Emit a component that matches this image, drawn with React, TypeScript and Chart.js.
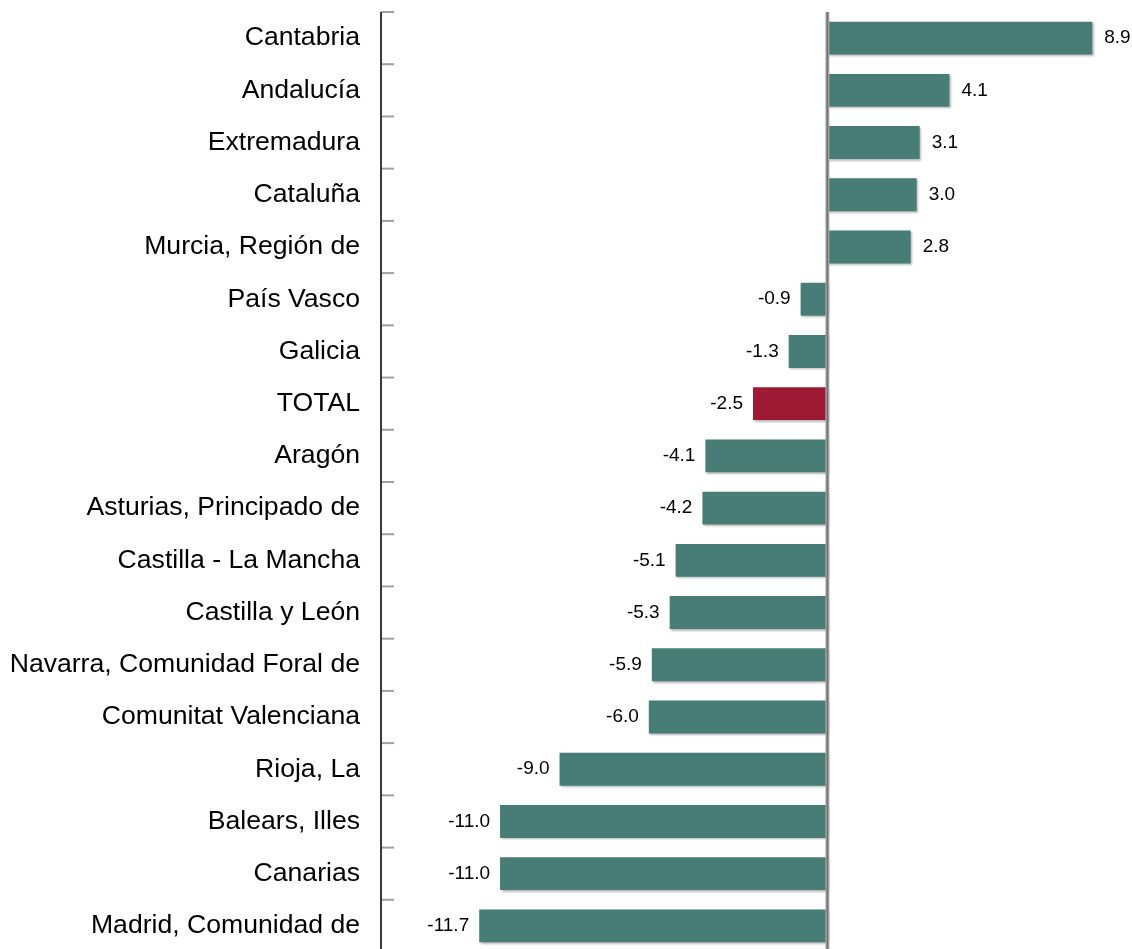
import { useEffect, useRef } from "react";
import { Chart, registerables } from "chart.js";

Chart.register(...registerables);

const categories = [
  "Cantabria",
  "Andalucía",
  "Extremadura",
  "Cataluña",
  "Murcia, Región de",
  "País Vasco",
  "Galicia",
  "TOTAL",
  "Aragón",
  "Asturias, Principado de",
  "Castilla - La Mancha",
  "Castilla y León",
  "Navarra, Comunidad Foral de",
  "Comunitat Valenciana",
  "Rioja, La",
  "Balears, Illes",
  "Canarias",
  "Madrid, Comunidad de",
];

const values = [8.9, 4.1, 3.1, 3.0, 2.8, -0.9, -1.3, -2.5, -4.1, -4.2, -5.1, -5.3, -5.9, -6.0, -9.0, -11.0, -11.0, -11.7];

const highlightCategory = "TOTAL";
const xMin = -15;
const xMax = 10;

const TEAL = "#477d75";
const RED = "#9c1a33";

export default function App() {
  const canvasRef = useRef<HTMLCanvasElement | null>(null);

  useEffect(() => {
    document.body.style.margin = "0";
    document.body.style.overflow = "hidden";
    const canvas = canvasRef.current;
    if (!canvas) return;

    const shadowPlugin = {
      id: "barShadow",
      beforeDatasetsDraw(chart: any) {
        const ctx = chart.ctx;
        ctx.save();
        ctx.shadowColor = "rgba(0,0,0,0.28)";
        ctx.shadowOffsetX = 1.5;
        ctx.shadowOffsetY = 1.5;
        ctx.shadowBlur = 2;
      },
      afterDatasetsDraw(chart: any) {
        const ctx = chart.ctx;
        ctx.restore();
        const area = chart.chartArea;
        const xs = chart.scales.x;
        const ys = chart.scales.y;
        // zero line
        const x0 = xs.getPixelForValue(0);
        ctx.save();
        ctx.strokeStyle = "#a8a8a8";
        ctx.lineWidth = 4;
        ctx.beginPath();
        ctx.moveTo(x0, area.top);
        ctx.lineTo(x0, area.bottom);
        ctx.stroke();
        ctx.strokeStyle = "#707070";
        ctx.lineWidth = 1.5;
        ctx.beginPath();
        ctx.moveTo(x0, area.top);
        ctx.lineTo(x0, area.bottom);
        ctx.stroke();
        // inner tick marks at category boundaries
        ctx.strokeStyle = "#a0a0a0";
        ctx.lineWidth = 2;
        for (let i = 0; i <= categories.length; i++) {
          const y = ys.getPixelForValue(i - 0.5);
          ctx.beginPath();
          ctx.moveTo(area.left, y);
          ctx.lineTo(area.left + 13, y);
          ctx.stroke();
        }
        // axis line
        ctx.strokeStyle = "#3a3a3a";
        ctx.lineWidth = 2;
        ctx.beginPath();
        ctx.moveTo(area.left, area.top);
        ctx.lineTo(area.left, area.bottom);
        ctx.stroke();
        // value labels
        const meta = chart.getDatasetMeta(0);
        ctx.font = "19px 'Liberation Sans', Arial, sans-serif";
        ctx.fillStyle = "#000";
        ctx.textBaseline = "middle";
        meta.data.forEach((bar: any, i: number) => {
          const v = values[i];
          const txt = v.toFixed(1);
          if (v >= 0) {
            ctx.textAlign = "left";
            ctx.fillText(txt, bar.x + 12, bar.y);
          } else {
            ctx.textAlign = "right";
            ctx.fillText(txt, bar.x - 10, bar.y);
          }
        });
        ctx.restore();
      },
    };

    const chart = new Chart(canvas, {
      type: "bar",
      data: {
        labels: categories,
        datasets: [
          {
            data: values,
            backgroundColor: categories.map((c) => (c === highlightCategory ? RED : TEAL)),
            borderWidth: 0,
            barPercentage: 0.63,
            categoryPercentage: 1,
          },
        ],
      },
      options: {
        indexAxis: "y",
        animation: false,
        responsive: false,
        maintainAspectRatio: false,
        devicePixelRatio: 1,
        layout: { padding: { top: 12, right: 7, bottom: 8, left: 0 } },
        plugins: {
          legend: { display: false },
          tooltip: { enabled: false },
        },
        scales: {
          x: {
            display: false,
            min: xMin,
            max: xMax,
          },
          y: {
            grid: { display: false, drawTicks: false },
            border: { display: false },
            ticks: {
              padding: 21,
              color: "#000",
              font: { family: "'Liberation Sans', Arial, sans-serif", size: 26.6 },
              autoSkip: false,
            },
            afterFit(scale: any) {
              scale.width = 381;
              scale.paddingTop = 0;
              scale.paddingBottom = 0;
            },
          },
        },
      },
      plugins: [shadowPlugin],
    });

    return () => chart.destroy();
  }, []);

  return (
    <div style={{ position: "absolute", left: 0, top: 0, width: 1132, height: 960 }}>
      <canvas ref={canvasRef} width={1132} height={960} style={{ width: 1132, height: 960 }} />
    </div>
  );
}
